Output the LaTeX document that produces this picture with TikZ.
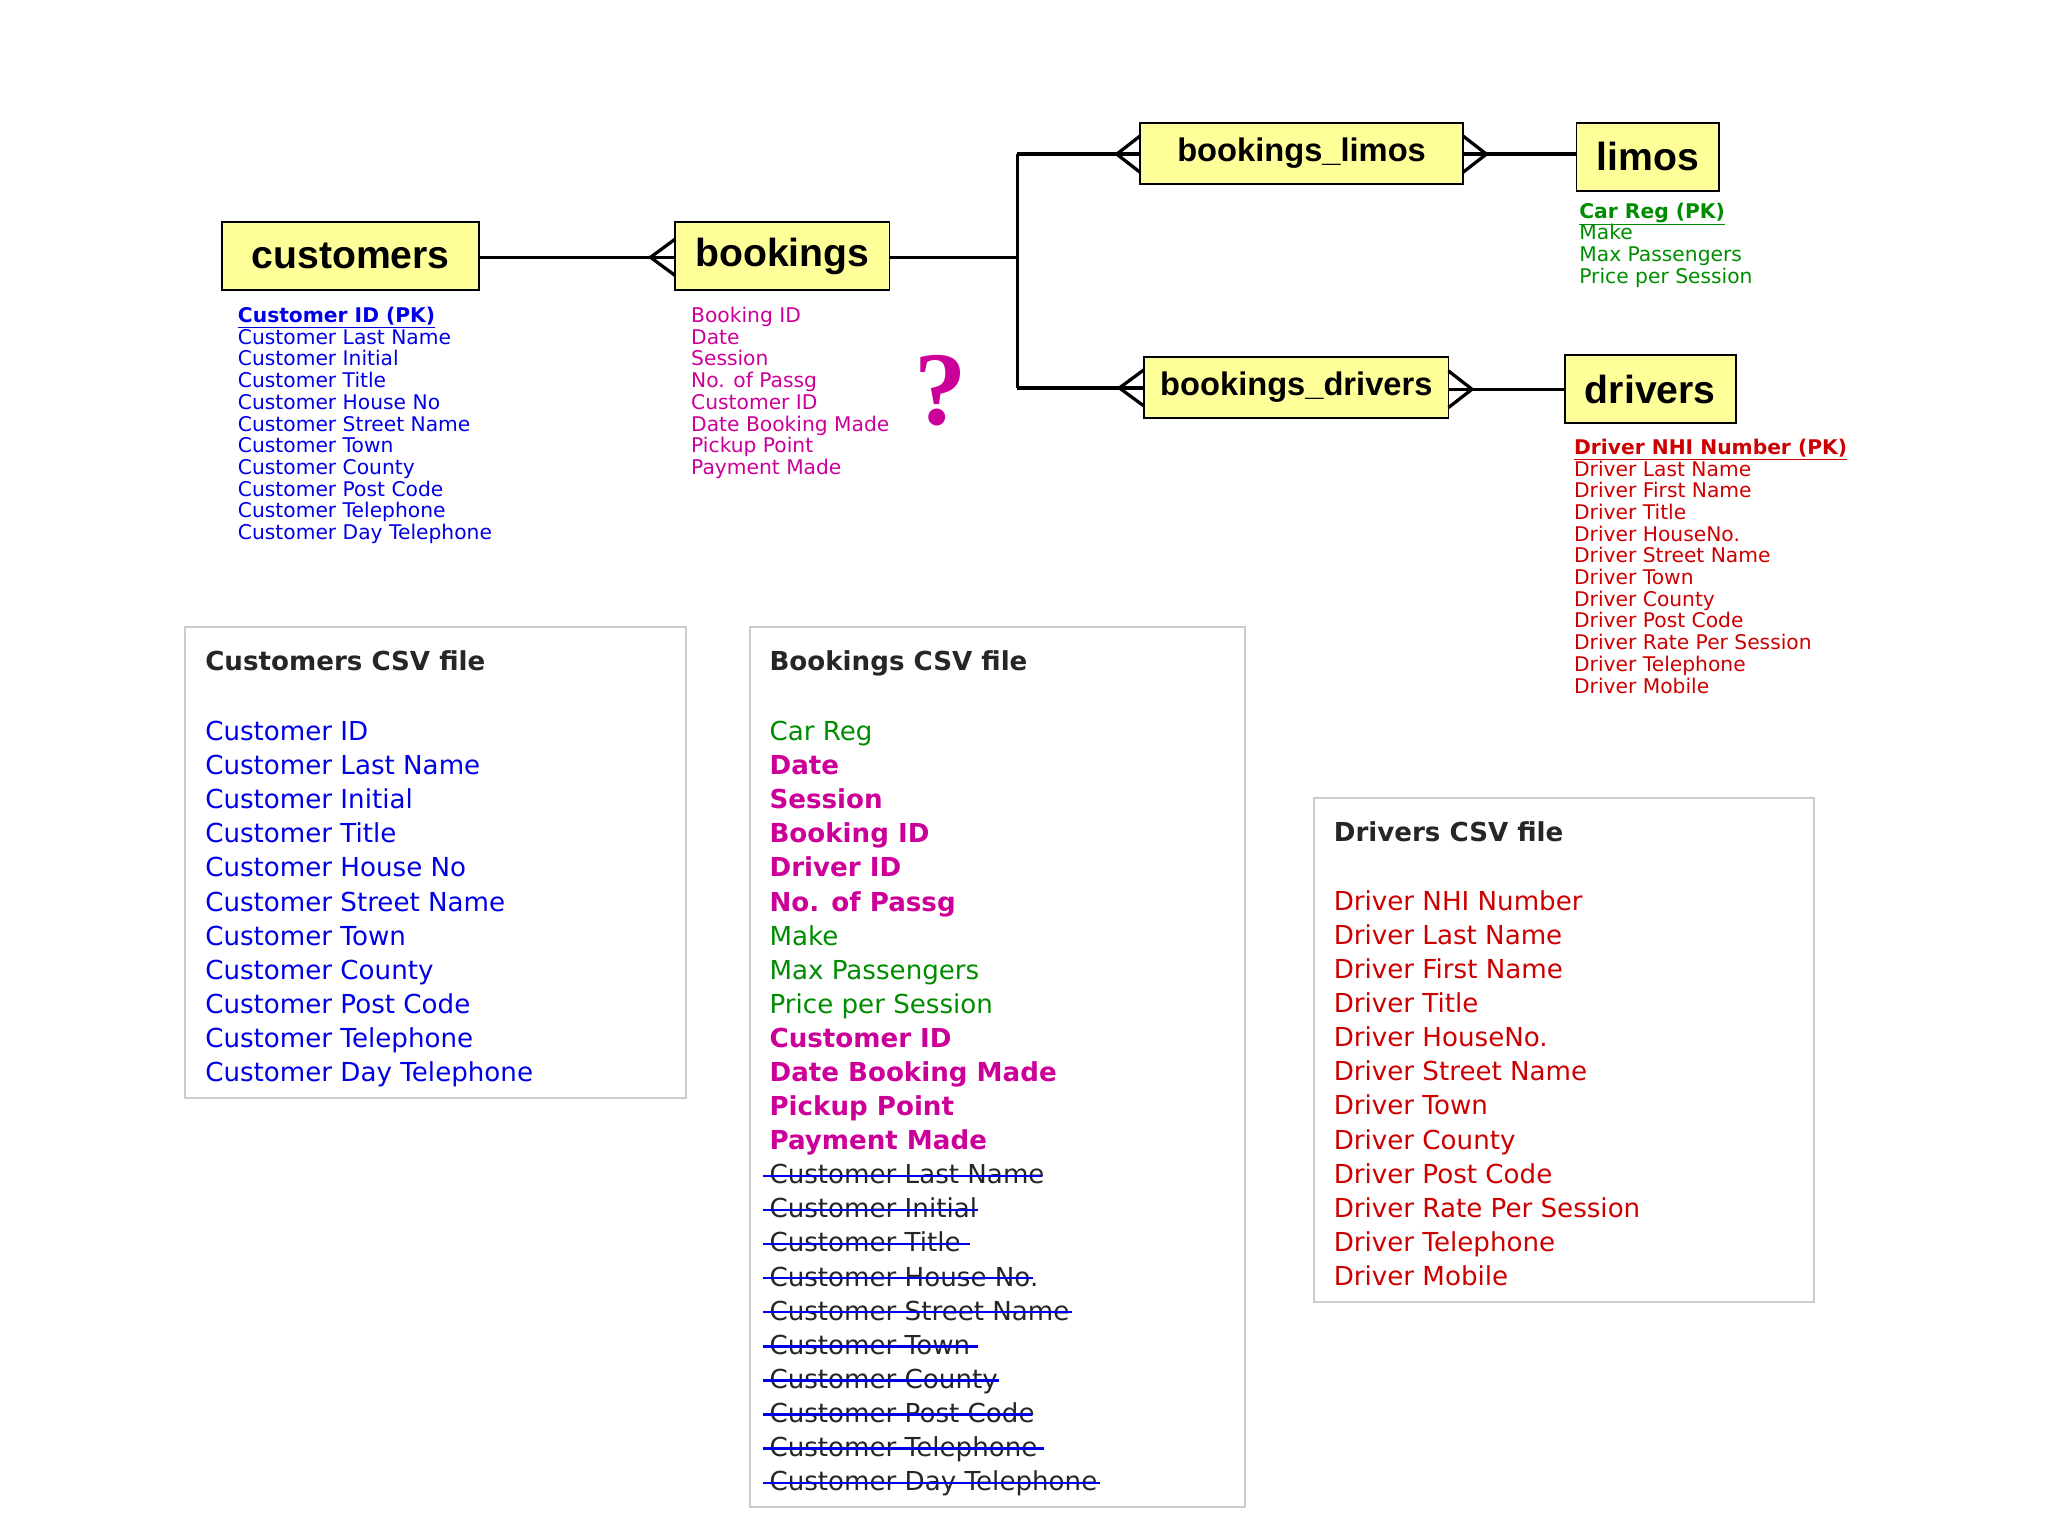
\documentclass[tikz,border=0pt]{standalone}
\usepackage{fontspec}
\setmainfont{DejaVu Sans}
\newfontfamily\arialf{Liberation Sans}
\newfontfamily\serff{Liberation Serif}
\begin{document}
\definecolor{cblue}{RGB}{0,0,230}
\definecolor{cmag}{RGB}{204,0,153}
\definecolor{cgreen}{RGB}{0,140,0}
\definecolor{cred}{RGB}{204,0,0}
\definecolor{boxy}{RGB}{255,255,153}
\begin{tikzpicture}[x=1pt,y=-1pt,
  ent/.style={draw=black,line width=1.5pt,fill=boxy,inner sep=0pt,font=\arialf\bfseries\fontsize{30}{30}\selectfont},
  lnk/.style={line width=2.5pt},
  attr/.style={anchor=base west,inner sep=0pt,font=\fontsize{15.5}{16}\selectfont},
  csv/.style={draw=black!20,line width=1.5pt},
  csvt/.style={anchor=base west,inner sep=0pt,font=\fontsize{20}{22}\selectfont},
  fn/.style={},fb/.style={font=\bfseries\fontsize{20}{22}\selectfont},
  crow/.style={line width=2.5pt}]
\useasboundingbox (0,0) rectangle (1568,1176);
% entity boxes
\node[ent,minimum width=197pt,minimum height=52pt] (cust) at (268.5,196) {customers};
\node[ent,minimum width=164pt,minimum height=52pt] (book) at (599,196) {bookings};
\node[ent,minimum width=247pt,minimum height=47pt,font=\arialf\bfseries\fontsize{25}{25}\selectfont] (bl) at (996.5,117.5) {bookings\_limos};
\node[ent,minimum width=109pt,minimum height=52pt] (limos) at (1261.5,120) {limos};
\node[ent,minimum width=233pt,minimum height=47pt,font=\arialf\bfseries\fontsize{25}{25}\selectfont] (bd) at (992.5,296.5) {bookings\_drivers};
\node[ent,minimum width=131pt,minimum height=52pt] (drv) at (1263.5,298) {drivers};
% connectors
\coordinate (j) at (779,197);
\coordinate (jt) at (779,118);
\coordinate (jb) at (779,297);
\draw[lnk] (cust.east|-0,197) -- (book.west|-0,197);
\draw[lnk] (book.east|-0,197) -- (j);
\draw[lnk] (jt) -- (jb);
\draw[lnk] (jt) -- (bl.west|-0,118);
\draw[lnk] (jb) -- (bd.west|-0,297);
\draw[lnk] (bl.east|-0,118) -- (limos.west|-0,118);
\draw[lnk] (bd.east|-0,298) -- (drv.west|-0,298);
% crow feet
\draw[crow] (517,183) -- (498,197) -- (517,211);
\draw[crow] (873,104) -- (855,118) -- (873,132);
\draw[crow] (876,283) -- (857,297) -- (876,311);
\draw[crow] (1120,104) -- (1138,118) -- (1120,132);
\draw[crow] (1109,284) -- (1127,298) -- (1109,312);
% attribute lists
\foreach \t [count=\i from 0] in {Customer Last Name,Customer Initial,Customer Title,Customer House No,Customer Street Name,Customer Town,Customer County,Customer Post Code,Customer Telephone,Customer Day Telephone}
  \node[attr,text=cblue] (ca\i) at (182,{263.6+16.6*\i}) {\t};
\node[attr,text=cblue,font=\bfseries\fontsize{15.5}{16}\selectfont] (cpk) at (182,247) {\underline{Customer ID (PK)}};
\foreach \t [count=\i from 0] in {Booking ID,Date,Session,No. of Passg,Customer ID,Date Booking Made,Pickup Point,Payment Made}
  \node[attr,text=cmag] (ba\i) at (529,{247+16.6*\i}) {\t};
\node[attr,text=cgreen,font=\bfseries\fontsize{15.5}{16}\selectfont] (lpk) at (1209,167) {\underline{Car Reg (PK)}};
\foreach \t [count=\i from 0] in {Make,Max Passengers,Price per Session}
  \node[attr,text=cgreen] (la\i) at (1209,{183.6+16.6*\i}) {\t};
\node[attr,text=cred,font=\bfseries\fontsize{15.5}{16}\selectfont] (dpk) at (1205,348) {\underline{Driver NHI Number (PK)}};
\foreach \t [count=\i from 0] in {Driver Last Name,Driver First Name,Driver Title,Driver HouseNo.,Driver Street Name,Driver Town,Driver County,Driver Post Code,Driver Rate Per Session,Driver Telephone,Driver Mobile}
  \node[attr,text=cred] (da\i) at (1205,{364.6+16.6*\i}) {\t};
\node[text=cmag,font=\serff\bfseries\fontsize{80}{80}\selectfont,inner sep=0pt] (q) at (720,299) {?};
% CSV boxes
\draw[csv] (142,480) rectangle (525,841);
\draw[csv] (574,480) rectangle (953,1154);
\draw[csv] (1006,611) rectangle (1389,997);
\node[csvt,font=\bfseries\fontsize{20}{22}\selectfont,text=black!85] (t1) at (157,513) {Customers CSV file};
\node[csvt,font=\bfseries\fontsize{20}{22}\selectfont,text=black!85] (t2) at (589,513) {Bookings CSV file};
\node[csvt,font=\bfseries\fontsize{20}{22}\selectfont,text=black!85] (t3) at (1021,644) {Drivers CSV file};
\foreach \t [count=\i from 0] in {Customer ID,Customer Last Name,Customer Initial,Customer Title,Customer House No,Customer Street Name,Customer Town,Customer County,Customer Post Code,Customer Telephone,Customer Day Telephone}
  \node[csvt,text=cblue] (cc\i) at (157,{567+26.1*\i}) {\t};
\foreach \t/\c/\s [count=\i from 0] in {Car Reg/cgreen/fn,Date/cmag/fb,Session/cmag/fb,Booking ID/cmag/fb,Driver ID/cmag/fb,No. of Passg/cmag/fb,Make/cgreen/fn,Max Passengers/cgreen/fn,Price per Session/cgreen/fn,Customer ID/cmag/fb,Date Booking Made/cmag/fb,Pickup Point/cmag/fb,Payment Made/cmag/fb}
  \node[csvt,text=\c,\s] (bc\i) at (589,{567+26.1*\i}) {\t};
\foreach \t/\e [count=\i from 0] in {Customer Last Name/798,Customer Initial/749,Customer Title/743,Customer House No./791,Customer Street Name/821,Customer Town/749,Customer County/765,Customer Post Code/790,Customer Telephone/799,Customer Day Telephone/842}{
  \node[csvt,text=black!85] (bs\i) at (589,{906.3+26.1*\i}) {\t};
  \draw[cblue,line width=1.8pt] (584,{900.3+26.1*\i}) -- (\e,{900.3+26.1*\i});
}
\foreach \t [count=\i from 0] in {Driver NHI Number,Driver Last Name,Driver First Name,Driver Title,Driver HouseNo.,Driver Street Name,Driver Town,Driver County,Driver Post Code,Driver Rate Per Session,Driver Telephone,Driver Mobile}
  \node[csvt,text=cred] (dc\i) at (1021,{697+26.1*\i}) {\t};
\end{tikzpicture}
\end{document}
